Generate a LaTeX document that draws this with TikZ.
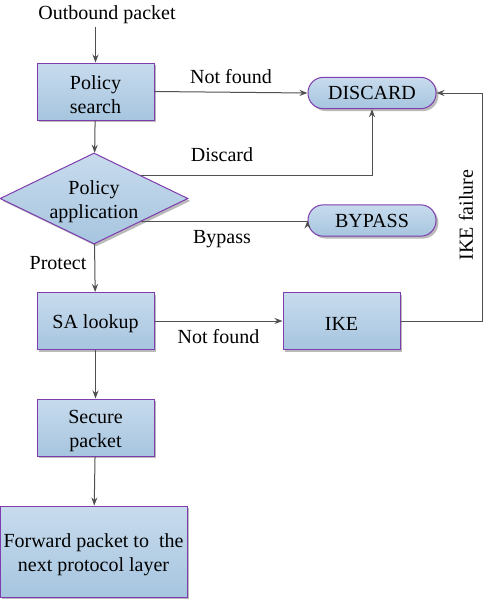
\documentclass[tikz,border=0pt]{standalone}
\usepackage{fontspec}
\setmainfont{Liberation Serif}
\usetikzlibrary{shapes.geometric,shadows,arrows.meta}
\tikzset{every picture/.style={line width=0.75pt}}
\definecolor{boxtop}{HTML}{C8DBED}
\definecolor{boxbot}{HTML}{A6C5DF}
\definecolor{boxline}{HTML}{7E3DAE}
\definecolor{arrline}{HTML}{505050}
\tikzset{
  txt/.style={inner sep=0.75pt, font=\fontsize{15}{18}\selectfont, align=center},
  lower text/.style={execute at begin node={\rule{0pt}{#1}}},
  lower text/.default=14.5pt,
  fill blue/.style={draw=boxline, top color=boxtop, bottom color=boxbot,
    drop shadow={shadow xshift=1.8pt, shadow yshift=-1.8pt, fill=black!45, opacity=0.6}},
  stepbox/.style={txt, lower text, fill blue, minimum width=87.75pt, minimum height=42.75pt},
  pill/.style={txt, fill blue, rounded corners=11.5pt, minimum width=96pt, minimum height=23.5pt},
  choice/.style={txt, fill blue, diamond, aspect=2.07, inner sep=0pt, minimum width=141pt, minimum height=68.25pt},
  conn/.style={draw=arrline, -{Stealth[length=6pt,width=4.5pt]}}
}

\begin{document}
\begin{tikzpicture}[x=0.75pt,y=0.75pt,yscale=-1,xscale=1]
\useasboundingbox (0,0) rectangle (492,601);

% Text Node
\node (outb) [txt] at (107,14.5) {Outbound packet};
%Shape: Rectangle [id:search]
\node (search) [stepbox, lower text=32.5pt] at (95.5,91.5) {Policy\\search};
%Shape: Diamond [id:policy]
\node (policy) [choice, lower text=32.5pt] at (94,198.5) {Policy\\application};
%Shape: Pill [id:discard]
\node (discard) [pill] at (372,93) {DISCARD};
%Shape: Pill [id:bypass]
\node (bypass) [pill] at (372,220.5) {BYPASS};
%Shape: Rectangle [id:sa]
\node (sa) [stepbox] at (95.5,321) {SA lookup};
%Shape: Rectangle [id:ike]
\node (ike) [stepbox] at (341.5,321) {IKE};
%Shape: Rectangle [id:secure]
\node (secure) [stepbox, lower text=32.5pt] at (95.5,427.5) {Secure\\packet};
%Shape: Rectangle [id:fwd]
\node (fwd) [stepbox, lower text=32.5pt, minimum width=140.25pt, minimum height=68.25pt] at (93.5,551.5) {Forward packet to~ the\\next protocol layer};

%Straight Lines
\draw [conn] (outb.south -| search.north) ++(0,2) -- (search.north);
\draw [conn] (search) -- (policy);
\draw [conn] (search.east) -- (discard.west) node [txt, midway, above=5pt] {Not found};
\draw [conn] (policy.north east) -- (policy.north east -| discard.south) -- (discard.south);
\draw [conn] (policy.south east) -- (policy.south east -| bypass.west) -- (bypass.west);
\draw [conn] (policy) -- (sa);
\draw [conn] (sa) -- (ike) node [txt, midway, below=5pt] {Not found};
\draw [conn] (ike.east) -- ++(82,0) |- (discard.east);
\draw [conn] (sa) -- (secure);
\draw [conn] (secure) -- (fwd);

% Text Node
\node (lbdisc) [txt] at (222,155) {Discard};
% Text Node
\node (lbbyp) [txt] at (222,239) {Bypass};
% Text Node
\node (lbprot) [txt] at (58,263) {Protect};
% Text Node
\node (lbfail) [txt, rotate=90] at (466,215) {IKE failure};

\end{tikzpicture}
\end{document}
